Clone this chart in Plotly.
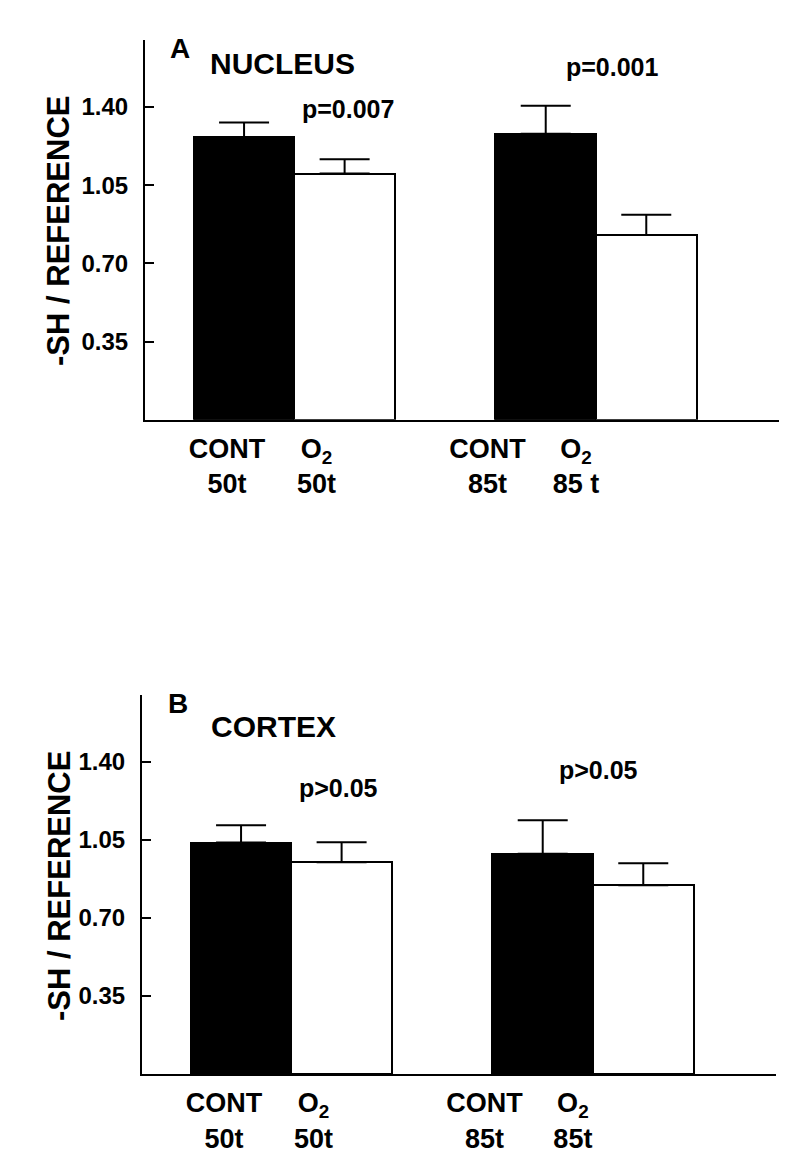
import plotly.graph_objects as go

# bar slots (gap between the two time points) and group labels
slots = [0, 1, 3, 4]
label_slots = [-0.17, 0.72, 2.42, 3.30]
nucleus_labels = ["CONT<br>50t", "O<sub>2</sub><br>50t", "CONT<br>85t", "O<sub>2</sub><br>85 t"]
cortex_labels = ["CONT<br>50t", "O<sub>2</sub><br>50t", "CONT<br>85t", "O<sub>2</sub><br>85t"]

# -SH / reference, mean and SE (upper bar only)
nucleus_mean = [1.265, 1.102, 1.280, 0.827]
nucleus_err = [0.066, 0.064, 0.126, 0.091]
cortex_mean = [1.038, 0.950, 0.988, 0.847]
cortex_err = [0.078, 0.089, 0.150, 0.098]

y_ticks = [0.35, 0.70, 1.05, 1.40]
y_ticktext = ["0.35", "0.70", "1.05", "1.40"]

bar_colors = ["black", "white", "black", "white"]
FONT = "Arial, Liberation Sans, sans-serif"

fig = go.Figure()


def add_panel(mean, err, xa, ya):
    fig.add_trace(go.Bar(
        x=slots, y=mean, width=1.0,
        marker=dict(color=bar_colors, line=dict(color="black", width=2)),
        error_y=dict(type="data", array=err, arrayminus=[0] * len(err), symmetric=False,
                     color="black", thickness=2, width=25),
        xaxis=xa, yaxis=ya, showlegend=False,
    ))


add_panel(nucleus_mean, nucleus_err, "x", "y")
add_panel(cortex_mean, cortex_err, "x2", "y2")

xcommon = dict(range=[-0.985, 5.32], showline=True, linecolor="black", linewidth=2,
               ticks="", showgrid=False, zeroline=False, automargin=False,
               tickmode="array", tickvals=label_slots, ticklabelstandoff=4,
               tickfont=dict(family=FONT, size=27, color="black", weight="bold"))
ycommon = dict(range=[0, 1.70], showline=True, linecolor="black", linewidth=2,
               ticks="inside", ticklen=9, tickwidth=2, tickcolor="black",
               showgrid=False, zeroline=False, automargin=False,
               tickmode="array", tickvals=y_ticks, ticktext=y_ticktext,
               ticklabelstandoff=10,
               tickfont=dict(family=FONT, size=24, color="black", weight="bold"))

# page body keeps an 8px margin, so the figure is 16px smaller than the window
fig.update_layout(
    width=792, height=1160,
    margin=dict(l=0, r=0, t=0, b=0),
    plot_bgcolor="white", paper_bgcolor="white",
    bargap=0,
    xaxis=dict(domain=[0.1730, 0.9735], anchor="y", ticktext=nucleus_labels, **xcommon),
    yaxis=dict(domain=[0.645, 0.9724], anchor="x", **ycommon),
    xaxis2=dict(domain=[0.1692, 0.9697], anchor="y2", ticktext=cortex_labels, **xcommon),
    yaxis2=dict(domain=[0.0810, 0.4078], anchor="x2", **ycommon),
)


def note(text, x, y, xref, yref, size):
    fig.add_annotation(text=text, x=x, y=y, xref=xref, yref=yref, showarrow=False,
                       xanchor="center", yanchor="middle",
                       font=dict(family=FONT, size=size, color="black", weight="bold"))


# panel A
note("A", -0.637, 1.663, "x", "y", 28)
note("NUCLEUS", 0.378, 1.595, "x", "y", 30)
note("p=0.007", 1.035, 1.39, "x", "y", 25)
note("p=0.001", 3.66, 1.577, "x", "y", 25)
# panel B
note("B", -0.627, 1.66, "x2", "y2", 28)
note("CORTEX", 0.319, 1.557, "x2", "y2", 30)
note("p>0.05", 0.966, 1.283, "x2", "y2", 25)
note("p>0.05", 3.556, 1.364, "x2", "y2", 25)

# y axis titles
for yc in [0.8078, 0.2431]:
    fig.add_annotation(text="-SH / REFERENCE", x=0.0644, y=yc, xref="paper", yref="paper",
                       textangle=-90, showarrow=False, xanchor="center", yanchor="middle",
                       font=dict(family=FONT, size=31, color="black", weight="bold"))

fig.write_html("out.html")
